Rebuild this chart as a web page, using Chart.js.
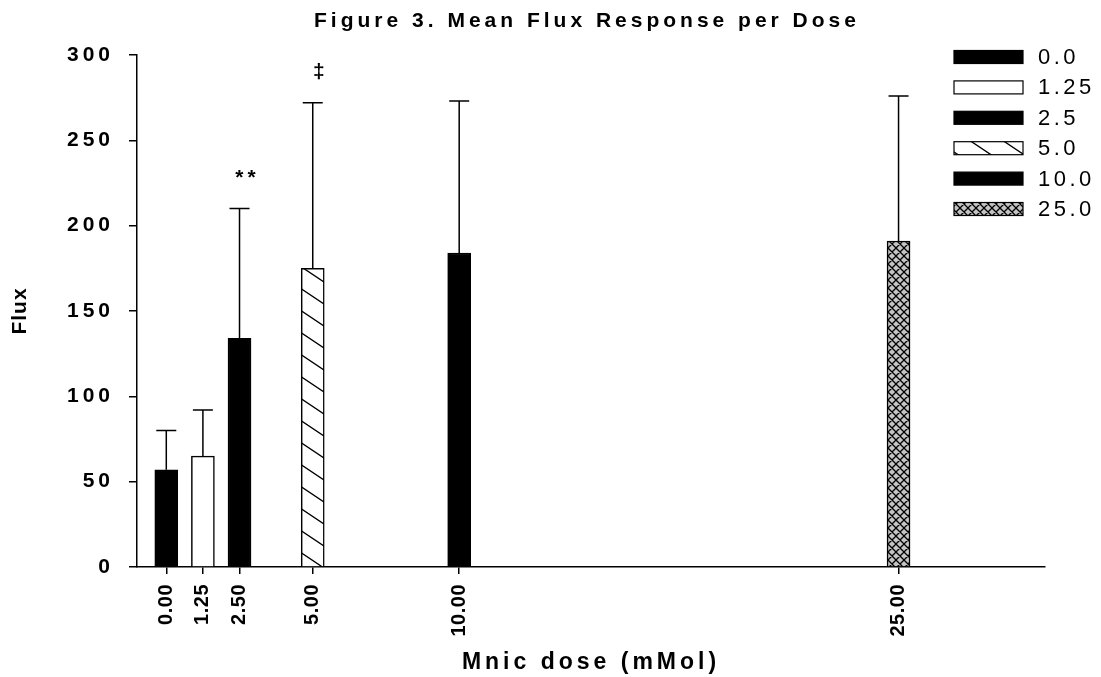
<!DOCTYPE html>
<html>
<head>
<meta charset="utf-8">
<title>Figure 3. Mean Flux Response per Dose</title>
<script src="https://cdn.jsdelivr.net/npm/chart.js@4.4.0/dist/chart.umd.min.js"></script>
<style>
  html, body { margin: 0; padding: 0; background: #fff; }
  #wrap { width: 1101px; height: 677px; position: relative; }
</style>
</head>
<body>
<div id="wrap"><canvas id="fluxChart"></canvas></div>
<script>
// data
const doses = [0, 1.25, 2.5, 5, 10, 25];
const legendLabels = ['0.0', '1.25', '2.5', '5.0', '10.0', '25.0'];
const meanFlux = [57, 65, 134, 175, 184, 191];
const errorTop = [80, 92, 210, 272, 273, 276];
const marks = ['', '', '**', '\u2021', '', ''];
const yTicks = [0, 50, 100, 150, 200, 250, 300];

const FONT = "'Liberation Sans', Arial, sans-serif";
const canvas = document.getElementById('fluxChart');
const ctx = canvas.getContext('2d');

// diagonal hatch for the 5.0 bar
function hatchPattern() {
  const c = document.createElement('canvas');
  c.width = 33; c.height = 22;
  const g = c.getContext('2d');
  g.fillStyle = '#fff';
  g.fillRect(0, 0, 33, 22);
  g.strokeStyle = '#000';
  g.lineWidth = 1.4;
  g.beginPath();
  for (let k = -1; k <= 1; k++) {
    g.moveTo(-10, -10 * 2 / 3 + k * 22);
    g.lineTo(43, 43 * 2 / 3 + k * 22);
  }
  g.stroke();
  return ctx.createPattern(c, 'repeat');
}

// cross hatch for the 25.0 bar
function crossPattern() {
  const c = document.createElement('canvas');
  c.width = 8; c.height = 8;
  const g = c.getContext('2d');
  g.fillStyle = '#c4c4c4';
  g.fillRect(0, 0, 8, 8);
  g.strokeStyle = '#000';
  g.lineWidth = 1.3;
  g.beginPath();
  for (let k = -1; k <= 2; k++) {
    g.moveTo(-2, -2 + k * 8); g.lineTo(10, 10 + k * 8);
    g.moveTo(-2, 2 + k * 8); g.lineTo(10, -10 + k * 8);
  }
  g.stroke();
  return ctx.createPattern(c, 'repeat');
}

const fills = ['#000', '#fff', '#000', hatchPattern(), '#000', crossPattern()];

// letter spacing on the axis texts
function spaceScale(scale, tickGap, titleGap) {
  if (scale._spaced) return;
  scale._spaced = true;
  const drawLabels = scale.drawLabels;
  const drawTitle = scale.drawTitle;
  scale.drawLabels = function (area) {
    this.ctx.letterSpacing = tickGap;
    drawLabels.call(this, area);
    this.ctx.letterSpacing = '0px';
  };
  scale.drawTitle = function () {
    this.ctx.letterSpacing = titleGap;
    drawTitle.call(this);
    this.ctx.letterSpacing = '0px';
  };
}

const spacing = {
  id: 'spacing',
  afterLayout(chart) {
    spaceScale(chart.scales.y, '4px', '1px');
    spaceScale(chart.scales.x, '0.5px', '4px');
  }
};

const errorBars = {
  id: 'errorBars',
  afterDatasetsDraw(chart) {
    const { ctx, scales: { x, y } } = chart;
    ctx.save();
    ctx.strokeStyle = '#000';
    ctx.lineWidth = 1.5;
    doses.forEach((d, i) => {
      const px = x.getPixelForValue(d);
      const base = y.getPixelForValue(meanFlux[i]);
      const top = y.getPixelForValue(errorTop[i]);
      ctx.beginPath();
      ctx.moveTo(px, base);
      ctx.lineTo(px, top);
      ctx.moveTo(px - 10, top);
      ctx.lineTo(px + 10, top);
      ctx.stroke();
      if (marks[i]) {
        ctx.fillStyle = '#000';
        ctx.font = 'bold 21px ' + FONT;
        ctx.letterSpacing = '4px';
        ctx.textAlign = 'center';
        ctx.textBaseline = 'alphabetic';
        ctx.fillText(marks[i], px + 8, top - 25);
        ctx.letterSpacing = '0px';
      }
    });
    ctx.restore();
  }
};

const titleAndLegend = {
  id: 'titleAndLegend',
  afterDraw(chart) {
    const { ctx, chartArea } = chart;
    ctx.save();
    ctx.fillStyle = '#000';
    ctx.textBaseline = 'middle';

    ctx.font = 'bold 21px ' + FONT;
    ctx.letterSpacing = '4px';
    ctx.textAlign = 'center';
    ctx.fillText('Figure 3. Mean Flux Response per Dose', (chartArea.left + chartArea.right) / 2 - 4, 21);

    ctx.font = '22px ' + FONT;
    ctx.letterSpacing = '3.5px';
    ctx.textAlign = 'left';
    chart.data.datasets.forEach((ds, i) => {
      const cy = 57 + i * 30.4;
      ctx.fillStyle = ds.backgroundColor;
      ctx.fillRect(954, cy - 6.5, 69, 13);
      ctx.strokeStyle = '#000';
      ctx.lineWidth = 1.2;
      ctx.strokeRect(954, cy - 6.5, 69, 13);
      ctx.fillStyle = '#000';
      ctx.fillText(ds.label, 1038, cy + 1);
    });
    ctx.letterSpacing = '0px';
    ctx.restore();
  }
};

new Chart(ctx, {
  type: 'bar',
  data: {
    datasets: doses.map((d, i) => ({
      label: legendLabels[i],
      data: [{ x: d, y: meanFlux[i] }],
      backgroundColor: fills[i],
      borderColor: '#000',
      borderWidth: 1.5,
      barThickness: 23,
      grouped: false
    }))
  },
  options: {
    responsive: true,
    maintainAspectRatio: false,
    animation: false,
    layout: { padding: { top: 55, right: 56, left: 0, bottom: 0 } },
    scales: {
      x: {
        type: 'linear',
        min: -1,
        max: 30,
        offset: false,
        afterFit: s => { s.height = 110; },
        afterBuildTicks: s => { s.ticks = doses.map(v => ({ value: v })); },
        grid: { drawOnChartArea: false, offset: false, color: '#000', lineWidth: 1.5, tickLength: 7 },
        border: { color: '#000', width: 1.5 },
        ticks: {
          color: '#000',
          font: { family: FONT, size: 20, weight: 'bold' },
          maxRotation: 90,
          minRotation: 90,
          padding: 10,
          autoSkip: false,
          callback: v => Number(v).toFixed(2)
        },
        title: {
          display: true,
          text: 'Mnic dose (mMol)',
          color: '#000',
          font: { family: FONT, size: 23, weight: 'bold' },
          padding: { top: 0, bottom: 1 }
        }
      },
      y: {
        min: 0,
        max: 300,
        afterFit: s => { s.width = 137; },
        afterBuildTicks: s => { s.ticks = yTicks.map(v => ({ value: v })); },
        grid: { drawOnChartArea: false, color: '#000', lineWidth: 1.5, tickLength: 8 },
        border: { color: '#000', width: 1.5 },
        ticks: {
          color: '#000',
          font: { family: FONT, size: 21, weight: 'bold' },
          padding: 15
        },
        title: {
          display: true,
          text: 'Flux',
          color: '#000',
          font: { family: FONT, size: 21, weight: 'bold' },
          align: 'center',
          padding: { top: 8, bottom: 0 }
        }
      }
    },
    plugins: {
      legend: { display: false },
      tooltip: { enabled: false }
    }
  },
  plugins: [spacing, errorBars, titleAndLegend]
});
</script>
</body>
</html>
